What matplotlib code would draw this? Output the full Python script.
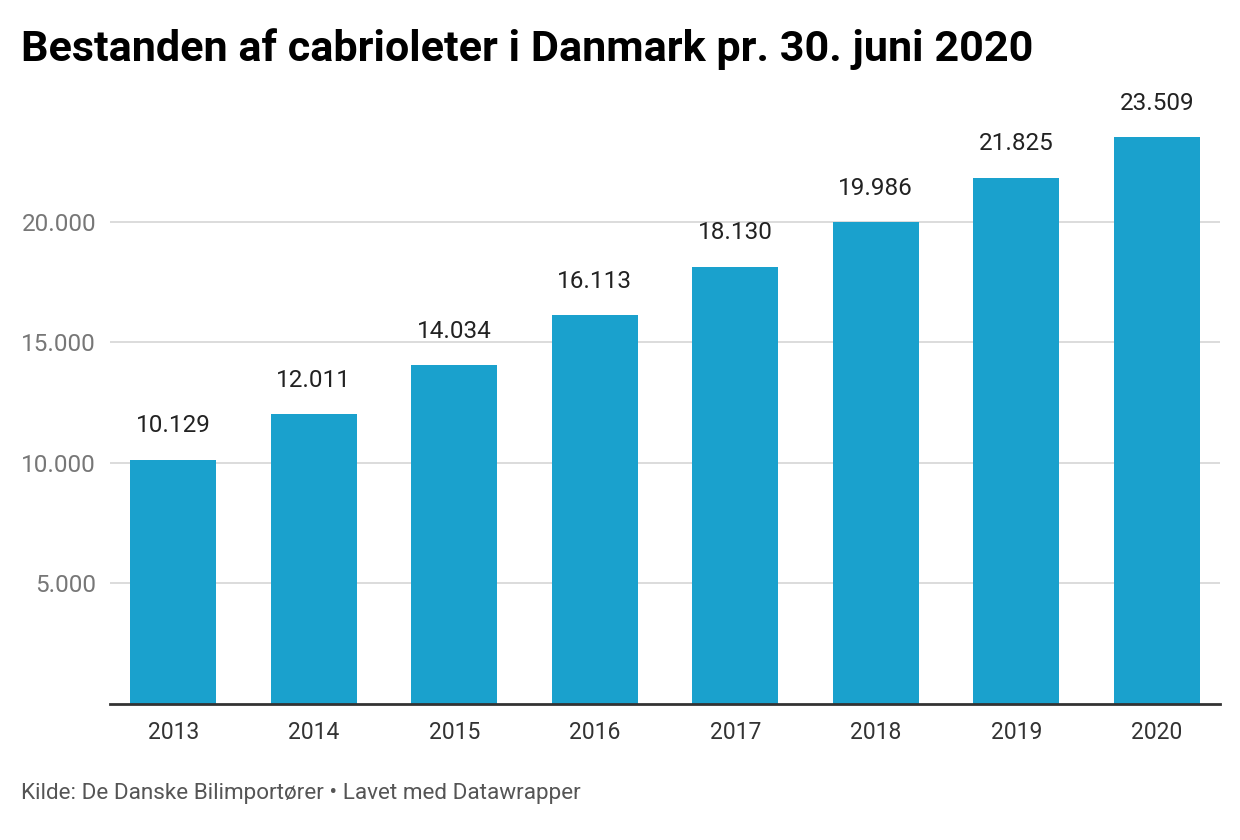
import matplotlib
matplotlib.use("Agg")
import matplotlib.pyplot as plt
from matplotlib.ticker import FixedLocator, FuncFormatter

years = ["2013", "2014", "2015", "2016", "2017", "2018", "2019", "2020"]
counts = [10129, 12011, 14034, 16113, 18130, 19986, 21825, 23509]
y_ticks = [5000, 10000, 15000, 20000]

TITLE = "Bestanden af cabrioleter i Danmark pr. 30. juni 2020"
SOURCE = "Kilde: De Danske Bilimportører • Lavet med Datawrapper"


def dk(v):
    # Danish thousands separator
    return f"{int(round(v)):,}".replace(",", ".")


plt.rcParams["font.family"] = ["Roboto", "DejaVu Sans"]

fig = plt.figure(figsize=(12.4, 8.4), dpi=100)
ax = fig.add_axes([110 / 1240, 1 - 704 / 840, 1110 / 1240, 603 / 840])

x = list(range(len(years)))
ax.bar(x, counts, width=0.61, color="#1aa1cd", zorder=2)

for xi, v in zip(x, counts):
    ax.annotate(dk(v), (xi, v), xytext=(0, 16), textcoords="offset points",
                ha="center", va="bottom", fontsize=17.5, color="#222222")

ax.set_xlim(-0.45, 7.45)
ax.set_ylim(0, 25000)
ax.set_xticks(x)
ax.set_xticklabels(years, fontsize=16.5, color="#333333")
ax.yaxis.set_major_locator(FixedLocator(y_ticks))
ax.yaxis.set_major_formatter(FuncFormatter(lambda v, p: dk(v)))
ax.tick_params(axis="y", length=0, pad=10, labelsize=17.5, labelcolor="#777777")
ax.tick_params(axis="x", length=0, pad=12)
ax.grid(axis="y", color="#d9d9d9", linewidth=1.3, zorder=0)
for side in ("top", "right", "left"):
    ax.spines[side].set_visible(False)
ax.spines["bottom"].set_color("#333333")
ax.spines["bottom"].set_linewidth(2)
ax.spines["bottom"].set_zorder(3)

fig.text(21 / 1240, 1 - 61 / 840, TITLE, fontsize=31.1, fontweight="bold",
         color="#000000", ha="left", va="baseline")
fig.text(21 / 1240, 1 - 799 / 840, SOURCE, fontsize=16.2, color="#555555",
         ha="left", va="baseline")

fig.savefig("out.png", dpi=100)
